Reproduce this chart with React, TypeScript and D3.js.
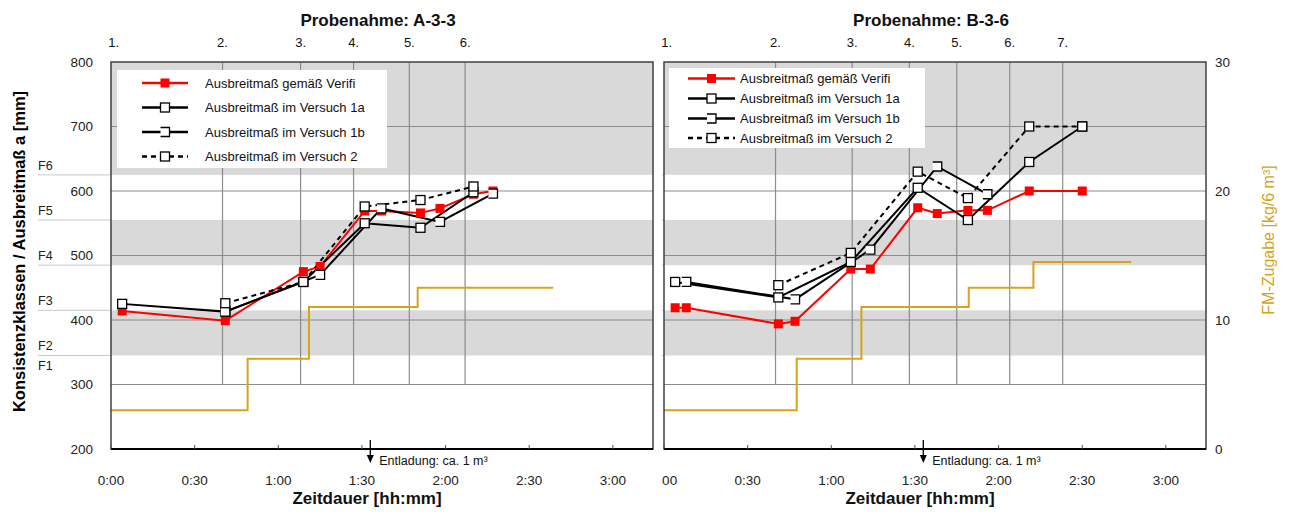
import * as d3 from "d3";

// axes
const timeTicks = [0, 30, 60, 90, 120, 150, 180];
const levelTicks = [200, 300, 400, 500, 600, 700, 800];
const gridLevels = [300, 400, 500, 600, 700];
const fmTicks = [0, 10, 20, 30];
const classBounds = [345, 415, 485, 555, 625];
const classNames = ["F1", "F2", "F3", "F4", "F5", "F6"];
const grayBands = [[345, 415], [485, 555], [625, 800]];
const entladungTime = 93;
const seriesNames = [
  "Ausbreitmaß gemäß Verifi",
  "Ausbreitmaß im Versuch 1a",
  "Ausbreitmaß im Versuch 1b",
  "Ausbreitmaß im Versuch 2",
];

// Probenahme A-3-3 (minutes / mm / kg)
const a33Samples = [1, 40, 68, 87, 107, 127];
const a33VerifiT = [4, 41, 69, 75, 91, 97, 111, 118, 130, 137];
const a33VerifiV = [414, 399, 475, 483, 569, 569, 566, 573, 595, 600];
const a33V1aT = [4, 41, 69, 91, 111, 130];
const a33V1aV = [425, 413, 459, 550, 543, 598];
const a33V1bT = [41, 75, 97, 118, 137];
const a33V1bV = [413, 470, 573, 552, 596];
const a33V2T = [41, 69, 91, 111, 130];
const a33V2V = [426, 459, 576, 586, 607];
const a33FmT = [0, 49, 71, 110, 158.6];
const a33FmV = [3, 7, 11, 12.5, 12.5];

// Probenahme B-3-6
const b36Samples = [1, 40, 67.5, 88, 105, 124, 143];
const b36VerifiT = [4, 8, 41, 47, 67, 74, 91, 98, 109, 116, 131, 150];
const b36VerifiV = [419, 419, 394, 398, 479, 479, 574, 565, 570, 570, 600, 600];
const b36V1aT = [4, 41, 67, 91, 109, 131, 150];
const b36V1aV = [459, 435, 490, 605, 555, 645, 700];
const b36V1bT = [8, 47, 74, 98, 116];
const b36V1bV = [459, 432, 509, 638, 595];
const b36V2T = [41, 67, 91, 109, 131, 150];
const b36V2V = [454, 504, 630, 589, 700, 700];
const b36FmT = [0, 47.6, 70.8, 109.3, 132.5, 167.6];
const b36FmV = [3, 7, 11, 12.5, 14.5, 14.5];

const W = 542;
const TOP = 62;
const BOTTOM = 449;
const ORANGE = "#d9a21b";
const FONT = "'Liberation Sans', Arial, sans-serif";

const fmtTime = (m) => `${Math.floor(m / 60)}:${String(m % 60).padStart(2, "0")}`;
const zip = (t, v) => t.map((d, i) => [d, v[i]]);

const Marker = ({ kind, cx, cy }) => {
  if (kind === "filled")
    return <rect x={cx - 4.5} y={cy - 4.5} width={9} height={9} fill="#ff0000" />;
  if (kind === "half")
    return (
      <g>
        <rect x={cx - 4.5} y={cy - 4.5} width={9} height={9} fill="#fff" />
        <path
          d={`M${cx - 4.5},${cy - 4.5}H${cx + 4.5}V${cy + 4.5}H${cx - 4.5}`}
          fill="none"
          stroke="#000"
          strokeWidth={1.3}
        />
      </g>
    );
  return (
    <rect x={cx - 4.5} y={cy - 4.5} width={9} height={9} fill="#fff" stroke="#000" strokeWidth={1.3} />
  );
};

const styles = [
  { color: "#ff0000", dash: null, marker: "filled" },
  { color: "#000", dash: null, marker: "open" },
  { color: "#000", dash: null, marker: "half" },
  { color: "#000", dash: "5,4", marker: "open" },
];

const Panel = ({ x0, title, samples, series, fmT, fmV, leftAxis, rightAxis, legend, clip }) => {
  const x = d3.scaleLinear().domain([0, 194.4]).range([x0, x0 + W]);
  const y = d3.scaleLinear().domain([200, 800]).range([BOTTOM, TOP]);
  const y2 = d3.scaleLinear().domain([0, 30]).range([BOTTOM, TOP]);
  const line = d3.line().x((d) => x(d[0])).y((d) => y(d[1]));
  const step = d3
    .line()
    .x((d) => x(d[0]))
    .y((d) => y2(d[1]))
    .curve(d3.curveStepAfter);

  return (
    <g clipPath={clip ? `url(#${clip})` : undefined} fontFamily={FONT}>
      <rect x={x0} y={TOP} width={W} height={BOTTOM - TOP} fill="#fff" />
      {grayBands.map(([a, b], i) => (
        <rect key={i} x={x0} y={y(b)} width={W} height={y(a) - y(b)} fill="#d9d9d9" />
      ))}
      {gridLevels.map((v) => (
        <line key={v} x1={x0} x2={x0 + W} y1={y(v)} y2={y(v)} stroke="#8c8c8c" strokeWidth={1.2} />
      ))}
      {samples.slice(1).map((t, i) => (
        <line key={i} x1={x(t)} x2={x(t)} y1={TOP} y2={y(300)} stroke="#8c8c8c" strokeWidth={1.2} />
      ))}
      {classBounds.map((b) => (
        <line
          key={b}
          x1={leftAxis ? 38 : x0 - 5}
          x2={x0}
          y1={y(b)}
          y2={y(b)}
          stroke="#c8c8c8"
          strokeWidth={1}
        />
      ))}
      {leftAxis &&
        classNames.map((n, i) => (
          <text
            key={n}
            x={38}
            y={i === 0 ? y(classBounds[0]) + 15 : y(classBounds[i - 1]) - 5}
            fontSize={12.5}
            fill="#222"
          >
            {n}
          </text>
        ))}

      {/* FM-Zugabe */}
      <path d={step(zip(fmT, fmV))} fill="none" stroke={ORANGE} strokeWidth={2} />

      {/* series */}
      {series.map((s, i) => (
        <path
          key={i}
          d={line(zip(s.t, s.v))}
          fill="none"
          stroke={styles[i].color}
          strokeWidth={2}
          strokeDasharray={styles[i].dash}
        />
      ))}
      {series.map((s, i) =>
        s.t.map((t, j) => <Marker key={`${i}-${j}`} kind={styles[i].marker} cx={x(t)} cy={y(s.v[j])} />)
      )}

      {/* legend */}
      <rect x={legend.x} y={legend.y} width={legend.w} height={legend.h} fill="#fff" />
      {seriesNames.map((n, i) => {
        const ry = legend.rows[i];
        const mx = (legend.l1 + legend.l2) / 2;
        return (
          <g key={n}>
            <line
              x1={legend.l1}
              x2={legend.l2}
              y1={ry}
              y2={ry}
              stroke={styles[i].color}
              strokeWidth={2.5}
              strokeDasharray={styles[i].dash}
            />
            <Marker kind={styles[i].marker} cx={mx} cy={ry} />
            <text x={legend.tx} y={ry} dy="0.35em" fontSize={13} fill="#111">
              {n}
            </text>
          </g>
        );
      })}

      {/* frame and axis */}
      <rect x={x0} y={TOP} width={W} height={BOTTOM - TOP} fill="none" stroke="#404040" strokeWidth={1.5} />
      <line x1={x0} x2={x0 + W} y1={BOTTOM} y2={BOTTOM} stroke="#000" strokeWidth={2} />
      {timeTicks.map((t) => (
        <g key={t}>
          <line x1={x(t)} x2={x(t)} y1={BOTTOM} y2={BOTTOM - 4} stroke="#555" strokeWidth={1} />
          <text x={x(t)} y={480} dy="0.35em" textAnchor="middle" fontSize={13.5} fill="#222">
            {fmtTime(t)}
          </text>
        </g>
      ))}

      {/* Entladung */}
      <line x1={x(entladungTime)} x2={x(entladungTime)} y1={440} y2={456} stroke="#000" strokeWidth={1.3} />
      <path
        d={`M${x(entladungTime) - 3.5},${455}L${x(entladungTime) + 3.5},${455}L${x(entladungTime)},${463}Z`}
        fill="#000"
      />
      <text x={x(entladungTime) + 9} y={461} dy="0.35em" fontSize={12.5} fill="#111">
        Entladung:  ca. 1 m³
      </text>

      {/* sample numbers and title */}
      {samples.map((t, i) => (
        <text key={i} x={x(t)} y={42} dy="0.35em" textAnchor="middle" fontSize={13} fill="#111">
          {`${i + 1}.`}
        </text>
      ))}
      <text x={x0 + 267} y={20} dy="0.35em" textAnchor="middle" fontSize={17} fontWeight="bold" fill="#111">
        {title}
      </text>
      <text x={x0 + 256} y={498} dy="0.35em" textAnchor="middle" fontSize={17} fontWeight="bold" fill="#111">
        Zeitdauer [hh:mm]
      </text>

      {leftAxis && (
        <g>
          {levelTicks.map((v) => (
            <text key={v} x={93} y={y(v)} dy="0.35em" textAnchor="end" fontSize={13.5} fill="#222">
              {v}
            </text>
          ))}
          <text
            transform={`translate(19,${(TOP + BOTTOM) / 2 - 4}) rotate(-90)`}
            dy="0.35em"
            textAnchor="middle"
            fontSize={16.5}
            fontWeight="bold"
            fill="#000"
          >
            Konsistenzklassen / Ausbreitmaß a [mm]
          </text>
        </g>
      )}
      {rightAxis && (
        <g>
          {fmTicks.map((v) => (
            <text key={v} x={x0 + W + 9} y={y2(v)} dy="0.35em" fontSize={13.5} fill="#222">
              {v}
            </text>
          ))}
          <text
            transform={`translate(1268,240) rotate(-90)`}
            dy="0.35em"
            textAnchor="middle"
            fontSize={16}
            fill={ORANGE}
          >
            FM-Zugabe [kg/6 m³]
          </text>
        </g>
      )}
    </g>
  );
};

export default function App() {
  const a33Series = [
    { t: a33VerifiT, v: a33VerifiV },
    { t: a33V1aT, v: a33V1aV },
    { t: a33V1bT, v: a33V1bV },
    { t: a33V2T, v: a33V2V },
  ];
  const b36Series = [
    { t: b36VerifiT, v: b36VerifiV },
    { t: b36V1aT, v: b36V1aV },
    { t: b36V1bT, v: b36V1bV },
    { t: b36V2T, v: b36V2V },
  ];
  return (
    <svg
      width={1290}
      height={514}
      style={{ position: "absolute", left: 0, top: 0, background: "#fff" }}
    >
      <defs>
        <clipPath id="rightClip">
          <rect x={662} y={0} width={640} height={514} />
        </clipPath>
      </defs>
      <rect width={1290} height={514} fill="#fff" />
      <Panel
        x0={111}
        title="Probenahme: A-3-3"
        samples={a33Samples}
        series={a33Series}
        fmT={a33FmT}
        fmV={a33FmV}
        leftAxis
        legend={{ x: 117, y: 70, w: 270, h: 98, rows: [83, 107.5, 132, 156.5], l1: 142, l2: 188, tx: 205 }}
      />
      <Panel
        x0={664}
        title="Probenahme: B-3-6"
        samples={b36Samples}
        series={b36Series}
        fmT={b36FmT}
        fmV={b36FmV}
        rightAxis
        clip="rightClip"
        legend={{ x: 669, y: 68, w: 256, h: 80, rows: [78.5, 98.5, 118.5, 138], l1: 688, l2: 735, tx: 740 }}
      />
    </svg>
  );
}
